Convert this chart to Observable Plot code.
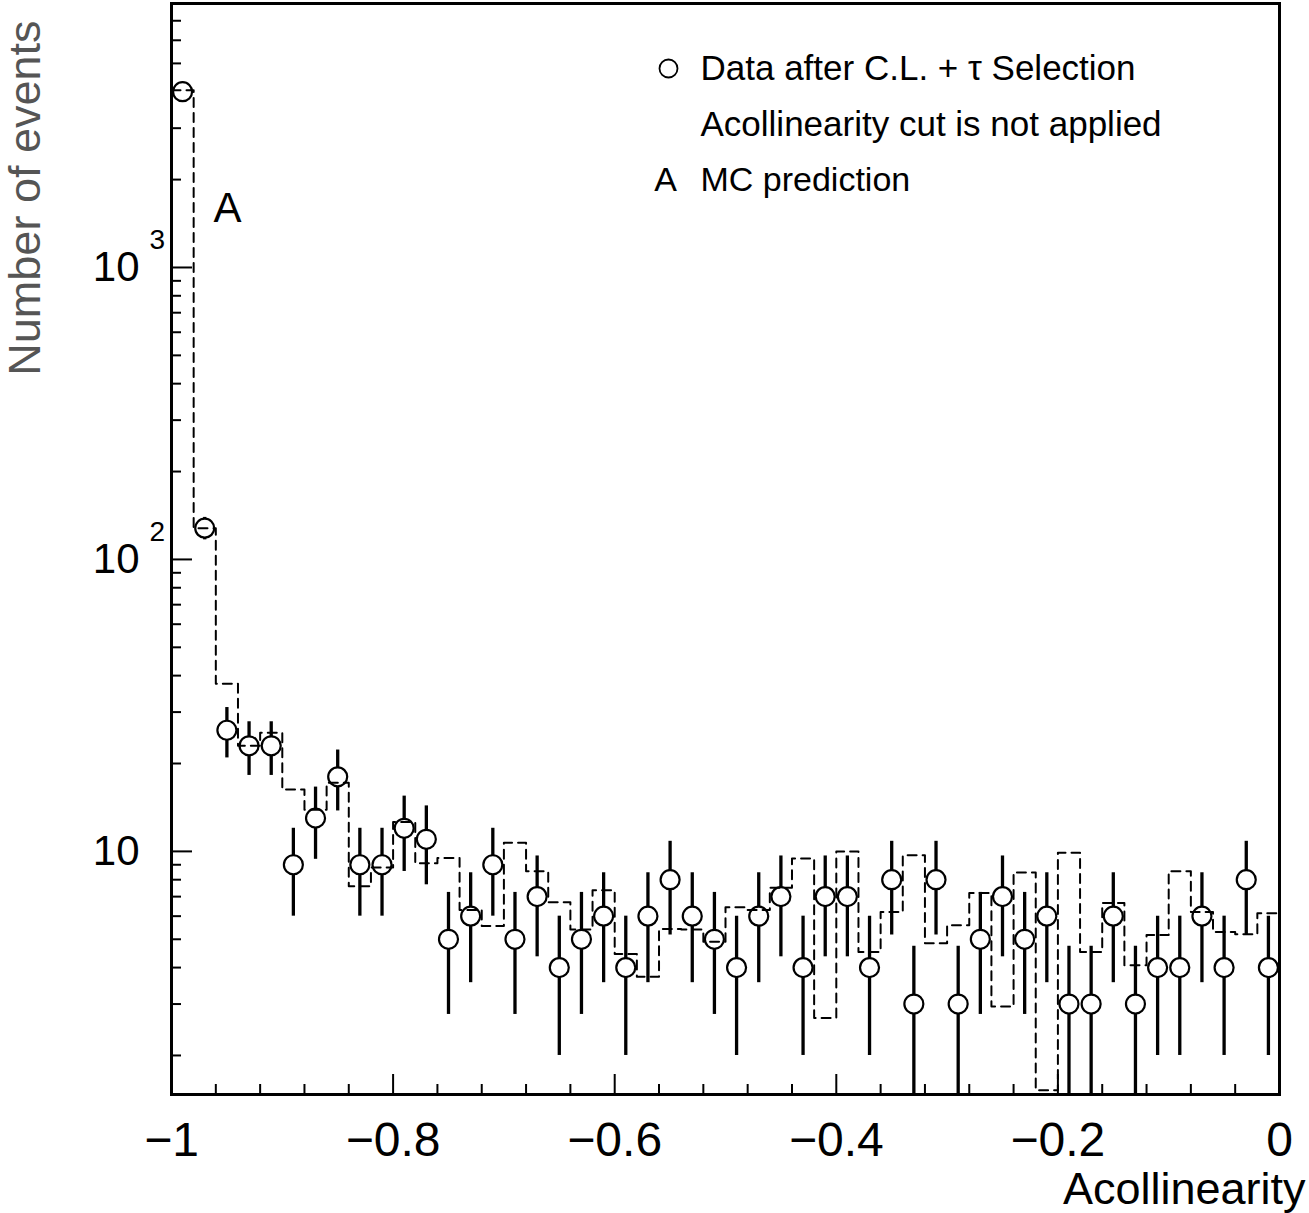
<!DOCTYPE html>
<html><head><meta charset="utf-8">
<script src="https://cdn.jsdelivr.net/npm/d3@7"></script>
<script src="https://cdn.jsdelivr.net/npm/@observablehq/plot@0.6"></script>
<style>html,body{margin:0;padding:0;background:#fff}</style>
</head><body><div id="chart"></div>
<script>
// ---- data ----
const binStart = -1;
const binWidth = 0.02;
// observed events per bin (data after C.L. + tau selection)
const dataCounts = [4000, 128, 26, 23, 23, 9, 13, 18, 9, 9,
                    12, 11, 5, 6, 9, 5, 7, 4, 5, 6,
                    4, 6, 8, 6, 5, 4, 6, 7, 4, 7,
                    7, 4, 8, 3, 8, 3, 5, 7, 5, 6,
                    3, 3, 6, 3, 4, 4, 6, 4, 8, 4];
// MC prediction (dashed histogram)
const mcPrediction = [4050, 128, 37.5, 23, 25.5, 16.3, 13.9, 17.2, 7.6, 8.8,
                      12.6, 9.1, 9.5, 6.3, 5.55, 10.7, 8.55, 6.7, 5.4, 7.36,
                      4.45, 3.72, 5.42, 5.4, 4.9, 6.44, 6.3, 7.5, 9.46, 2.69,
                      10.0, 4.52, 6.2, 9.7, 4.85, 5.58, 7.2, 2.94, 8.47, 1.52,
                      9.9, 4.52, 6.66, 4.07, 5.17, 8.55, 6.2, 5.3, 5.2, 6.14];
const xMajorTicks = [-1, -0.8, -0.6, -0.4, -0.2, 0];
const xMinorTicks = [-0.96, -0.92, -0.88, -0.84, -0.76, -0.72, -0.68, -0.64,
                     -0.56, -0.52, -0.48, -0.44, -0.36, -0.32, -0.28, -0.24,
                     -0.16, -0.12, -0.08, -0.04];
const yMajorTicks = [10, 100, 1000];
const yMajorBase = ["10", "10", "10"];
const yMajorExponent = ["", "2", "3"];
const yMinorMultipliers = [2, 3, 4, 5, 6, 7, 8, 9];
const yDecades = [1, 10, 100, 1000];
const yDomain = [1.47, 8020];
const xTitle = "Acollinearity";
const yTitle = "Number of events";
const legendText = ["Data after C.L. + \u03C4 Selection", "Acollinearity cut is not applied", "MC prediction"];
const mcLabel = "A";

// ---- derived tables ----
const bins = dataCounts.map((n, i) => ({
  center: binStart + binWidth * (i + 0.5),
  n,
  lo: n - Math.sqrt(n),
  hi: n + Math.sqrt(n)
}));
const mcSteps = mcPrediction.map((v, i) => ({x: binStart + binWidth * i, y: v}))
  .concat([{x: binStart + binWidth * mcPrediction.length, y: mcPrediction[mcPrediction.length - 1]}]);
const yMinorTicks = yDecades.flatMap(d => yMinorMultipliers.map(m => m * d))
  .filter(v => v >= yDomain[0] && v <= yDomain[1]);
const fmtX = d3.format("~g");

const font = "'Liberation Sans', Arial, Helvetica, sans-serif";
const txt = {fill: "#000", lineAnchor: "middle"};

const chart = Plot.plot({
  width: 1309,
  height: 1213,
  marginLeft: 171,
  marginRight: 30,
  marginTop: 3,
  marginBottom: 119,
  style: {fontFamily: font, background: "#fff", color: "#000"},
  x: {domain: [-1, 0], axis: null},
  y: {type: "log", domain: yDomain, axis: null},
  marks: [
    // ticks (inside frame)
    Plot.axisX(xMajorTicks, {anchor: "bottom", tickSize: -20, strokeWidth: 2, tickFormat: () => "", label: null}),
    Plot.axisX(xMinorTicks, {anchor: "bottom", tickSize: -10, strokeWidth: 2, tickFormat: () => "", label: null}),
    Plot.axisY(yMajorTicks, {anchor: "left", tickSize: -21, strokeWidth: 2, tickFormat: () => "", label: null}),
    Plot.axisY(yMinorTicks, {anchor: "left", tickSize: -10, strokeWidth: 2, tickFormat: () => "", label: null}),
    // error bars
    Plot.ruleX(bins, {x: "center", y1: "lo", y2: "hi", stroke: "#000", strokeWidth: 3.3, clip: true}),
    // data points
    Plot.dot(bins, {x: "center", y: "n", r: 9.5, stroke: "#000", strokeWidth: 2.2, fill: "#fff", clip: true}),
    // MC histogram
    Plot.line(mcSteps, {x: "x", y: "y", curve: "step-after", stroke: "#000", strokeWidth: 2, strokeDasharray: "9,6", clip: true}),
    // frame
    Plot.frame({stroke: "#000", strokeWidth: 3}),
    // y tick labels
    Plot.text(yMajorTicks, {...txt, y: d => d, text: (d, i) => yMajorBase[i], frameAnchor: "left", textAnchor: "end", dx: -32, fontSize: 42}),
    Plot.text(yMajorTicks, {...txt, y: d => d, text: (d, i) => yMajorExponent[i], frameAnchor: "left", textAnchor: "start", dx: -22, dy: -27, fontSize: 28}),
    // x tick labels
    Plot.text(xMajorTicks, {...txt, x: d => d, text: d => fmtX(d), frameAnchor: "bottom", dy: 46, fontSize: 48}),
    // axis titles
    Plot.text([xTitle], {...txt, text: d => d, frameAnchor: "bottom-right", textAnchor: "end", dx: 26, dy: 95, fontSize: 45}),
    Plot.text([yTitle], {...txt, text: d => d, frameAnchor: "top-left", textAnchor: "end", rotate: -90, dx: -146, dy: 17, fontSize: 45, fill: "#555"}),
    // MC label near histogram
    Plot.text([mcLabel], {...txt, text: d => d, frameAnchor: "top-left", dx: 42, dy: 205, fontSize: 42}),
    // legend
    Plot.dot([0], {frameAnchor: "top-left", dx: 497, dy: 65, r: 9, stroke: "#000", strokeWidth: 1.8, fill: "#fff"}),
    Plot.text([legendText[0]], {...txt, text: d => d, frameAnchor: "top-left", textAnchor: "start", dx: 529, dy: 65, fontSize: 35}),
    Plot.text([legendText[1]], {...txt, text: d => d, frameAnchor: "top-left", textAnchor: "start", dx: 529, dy: 121, fontSize: 35}),
    Plot.text([mcLabel], {...txt, text: d => d, frameAnchor: "top-left", textAnchor: "middle", dx: 494, dy: 177, fontSize: 34}),
    Plot.text([legendText[2]], {...txt, text: d => d, frameAnchor: "top-left", textAnchor: "start", dx: 529, dy: 177, fontSize: 34})
  ]
});
document.getElementById("chart").appendChild(chart);
</script>
</body></html>
